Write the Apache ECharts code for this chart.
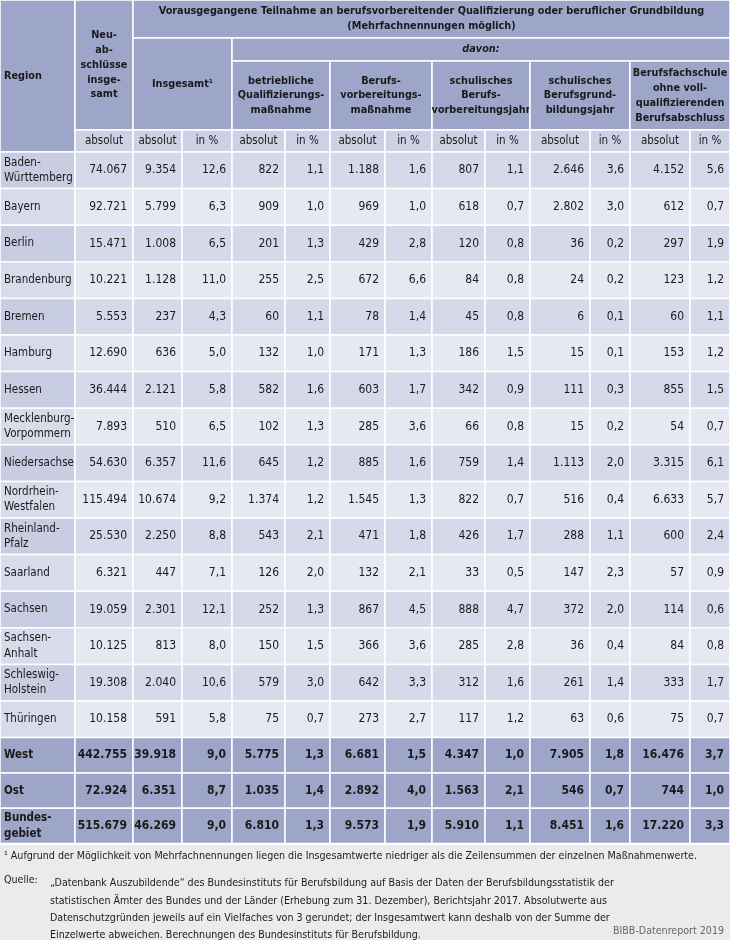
<!DOCTYPE html>
<html>
<head>
<meta charset="utf-8">
<title></title>
<style>
  * { margin: 0; padding: 0; }
  body { background: #fff; }
  #tab { width: 730px; height: 940px; }
</style>
<script src="https://cdn.jsdelivr.net/npm/echarts@6/dist/echarts.min.js"></script>
</head>
<body>
<div id="tab"></div>
<script>
// data
var regions = ['Baden-\nWürttemberg', 'Bayern', 'Berlin', 'Brandenburg', 'Bremen', 'Hamburg', 'Hessen',
  'Mecklenburg-\nVorpommern', 'Niedersachsen', 'Nordrhein-\nWestfalen', 'Rheinland-\nPfalz', 'Saarland',
  'Sachsen', 'Sachsen-\nAnhalt', 'Schleswig-\nHolstein', 'Thüringen', 'West', 'Ost', 'Bundes-\ngebiet'];
var neuAbs  = [74067, 92721, 15471, 10221, 5553, 12690, 36444, 7893, 54630, 115494, 25530, 6321, 19059, 10125, 19308, 10158, 442755, 72924, 515679];
var insAbs  = [9354, 5799, 1008, 1128, 237, 636, 2121, 510, 6357, 10674, 2250, 447, 2301, 813, 2040, 591, 39918, 6351, 46269];
var insPct  = [12.6, 6.3, 6.5, 11.0, 4.3, 5.0, 5.8, 6.5, 11.6, 9.2, 8.8, 7.1, 12.1, 8.0, 10.6, 5.8, 9.0, 8.7, 9.0];
var betrAbs = [822, 909, 201, 255, 60, 132, 582, 102, 645, 1374, 543, 126, 252, 150, 579, 75, 5775, 1035, 6810];
var betrPct = [1.1, 1.0, 1.3, 2.5, 1.1, 1.0, 1.6, 1.3, 1.2, 1.2, 2.1, 2.0, 1.3, 1.5, 3.0, 0.7, 1.3, 1.4, 1.3];
var bvmAbs  = [1188, 969, 429, 672, 78, 171, 603, 285, 885, 1545, 471, 132, 867, 366, 642, 273, 6681, 2892, 9573];
var bvmPct  = [1.6, 1.0, 2.8, 6.6, 1.4, 1.3, 1.7, 3.6, 1.6, 1.3, 1.8, 2.1, 4.5, 3.6, 3.3, 2.7, 1.5, 4.0, 1.9];
var bvjAbs  = [807, 618, 120, 84, 45, 186, 342, 66, 759, 822, 426, 33, 888, 285, 312, 117, 4347, 1563, 5910];
var bvjPct  = [1.1, 0.7, 0.8, 0.8, 0.8, 1.5, 0.9, 0.8, 1.4, 0.7, 1.7, 0.5, 4.7, 2.8, 1.6, 1.2, 1.0, 2.1, 1.1];
var bgjAbs  = [2646, 2802, 36, 24, 6, 15, 111, 15, 1113, 516, 288, 147, 372, 36, 261, 63, 7905, 546, 8451];
var bgjPct  = [3.6, 3.0, 0.2, 0.2, 0.1, 0.1, 0.3, 0.2, 2.0, 0.4, 1.1, 2.3, 2.0, 0.4, 1.4, 0.6, 1.8, 0.7, 1.6];
var bfsAbs  = [4152, 612, 297, 123, 60, 153, 855, 54, 3315, 6633, 600, 57, 114, 84, 333, 75, 16476, 744, 17220];
var bfsPct  = [5.6, 0.7, 1.9, 1.2, 1.1, 1.2, 1.5, 0.7, 6.1, 5.7, 2.4, 0.9, 0.6, 0.8, 1.7, 0.7, 3.7, 1.0, 3.3];
var units = ['absolut', 'absolut', 'in %', 'absolut', 'in %', 'absolut', 'in %', 'absolut', 'in %', 'absolut', 'in %', 'absolut', 'in %'];
var footnote = '¹ Aufgrund der Möglichkeit von Mehrfachnennungen liegen die Insgesamtwerte niedriger als die Zeilensummen der einzelnen Maßnahmenwerte.';
var sourceLines = [
  '„Datenbank Auszubildende“ des Bundesinstituts für Berufsbildung auf Basis der Daten der Berufsbildungsstatistik der',
  'statistischen Ämter des Bundes und der Länder (Erhebung zum 31. Dezember), Berichtsjahr 2017. Absolutwerte aus',
  'Datenschutzgründen jeweils auf ein Vielfaches von 3 gerundet; der Insgesamtwert kann deshalb von der Summe der',
  'Einzelwerte abweichen. Berechnungen des Bundesinstituts für Berufsbildung.'
];

// layout
var colEdges = [0, 75, 133, 182, 232, 285, 330, 385, 432, 485, 530, 590, 630, 690, 730];
var headEdges = [0, 38, 61, 130, 152];
var bodyTop = 152, rowH = 36.6, sumH = 35.3;
var FONT = '"DejaVu Sans Condensed", "Liberation Sans Narrow", sans-serif';

function fmtInt(v) { return String(v).replace(/\B(?=(\d{3})+(?!\d))/g, '.'); }
function fmtPct(v) { return v.toFixed(1).replace('.', ','); }

function rowY(r) {
  if (r <= 16) return bodyTop + r * rowH;
  return bodyTop + 16 * rowH + (r - 16) * sumH;
}

var numCols = [neuAbs, insAbs, insPct, betrAbs, betrPct, bvmAbs, bvmPct, bvjAbs, bvjPct, bgjAbs, bgjPct, bfsAbs, bfsPct];

// header cells: [text, c0, c1, r0, r1, italic, unitRow]
var headCells = [
  ['Region', 0, 1, 0, 4],
  ['Neu-\nab-\nschlüsse\ninsge-\nsamt', 1, 2, 0, 3],
  ['Vorausgegangene Teilnahme an berufsvorbereitender Qualifizierung oder beruflicher Grundbildung\n(Mehrfachnennungen möglich)', 2, 14, 0, 1],
  ['Insgesamt¹', 2, 4, 1, 3],
  ['davon:', 4, 14, 1, 2, true],
  ['betriebliche\nQualifizierungs-\nmaßnahme', 4, 6, 2, 3],
  ['Berufs-\nvorbereitungs-\nmaßnahme', 6, 8, 2, 3],
  ['schulisches\nBerufs-\nvorbereitungsjahr', 8, 10, 2, 3],
  ['schulisches\nBerufsgrund-\nbildungsjahr', 10, 12, 2, 3],
  ['Berufsfachschule\nohne voll-\nqualifizierenden\nBerufsabschluss', 12, 14, 2, 3]
];
units.forEach(function (u, i) { headCells.push([u, i + 1, i + 2, 3, 4, false, true]); });

var bodyCells = [];
for (var r = 0; r < regions.length; r++) {
  bodyCells.push([0, r, regions[r]]);
  for (var c = 0; c < numCols.length; c++) {
    var v = numCols[c][r];
    bodyCells.push([c + 1, r, (c >= 2 && c % 2 === 0) ? fmtPct(v) : fmtInt(v)]);
  }
}

function rectItem(api, x0, x1, y0, y1, fill, text, align, bold, italic, size) {
  var p0 = api.coord([x0, y0]), p1 = api.coord([x1, y1]);
  var tx = align === 'left' ? p0[0] + 4 : align === 'right' ? p1[0] - 6 : (p0[0] + p1[0]) / 2;
  return {
    type: 'group',
    children: [
      { type: 'rect', shape: { x: p0[0], y: p0[1], width: p1[0] - p0[0], height: p1[1] - p0[1] },
        style: { fill: fill, stroke: '#ffffff', lineWidth: 1.5 } },
      { type: 'text', style: { x: tx, y: (p0[1] + p1[1]) / 2, text: text, align: align, verticalAlign: 'middle',
          fill: '#1a1a1a', fontFamily: FONT, fontSize: size, lineHeight: size + 4,
          fontWeight: bold ? 'bold' : 'normal', fontStyle: italic ? 'italic' : 'normal' } }
    ]
  };
}

var chart = echarts.init(document.getElementById('tab'));
chart.setOption({
  animation: false,
  grid: { left: 0, top: 0, width: 730, height: 845 },
  xAxis: { type: 'value', min: 0, max: 730, show: false },
  yAxis: { type: 'value', min: 0, max: 845, inverse: true, show: false },
  graphic: [
    { type: 'rect', shape: { x: 0, y: 845, width: 730, height: 95 }, style: { fill: '#ebebeb' } },
    { type: 'text', style: { x: 4, y: 851, text: footnote, fill: '#1a1a1a', fontFamily: FONT, fontSize: 10.6 } },
    { type: 'text', style: { x: 4, y: 875, text: 'Quelle:', fill: '#1a1a1a', fontFamily: FONT, fontSize: 10.6 } },
    { type: 'text', style: { x: 50, y: 875, text: sourceLines.join('\n'), fill: '#1a1a1a', fontFamily: FONT, fontSize: 10.6, lineHeight: 17.3 } },
    { type: 'text', style: { x: 724, y: 926, text: 'BIBB-Datenreport 2019', align: 'right', fill: '#666', fontFamily: FONT, fontSize: 10.6 } }
  ],
  series: [{
    type: 'custom',
    data: headCells.map(function (h, i) { return [i]; }),
    renderItem: function (params, api) {
      var h = headCells[params.dataIndex];
      var fill = h[6] ? '#cdd1e4' : '#9da6c9';
      return rectItem(api, colEdges[h[1]], colEdges[h[2]], headEdges[h[3]], headEdges[h[4]], fill,
        h[0], h[1] === 0 ? 'left' : 'center', !h[6], h[5], h[6] ? 11.5 : 10.8);
    }
  }, {
    type: 'custom',
    data: bodyCells,
    renderItem: function (params, api) {
      var c = api.value(0), r = api.value(1);
      var cell = bodyCells[params.dataIndex];
      var sum = r >= 16;
      var fill;
      if (sum) fill = '#9da6c9';
      else if (c === 0) fill = r % 2 === 0 ? '#c9cde2' : '#d8dbea';
      else fill = r % 2 === 0 ? '#d6d9e9' : '#e6e8f2';
      return rectItem(api, colEdges[c], colEdges[c + 1], rowY(r), rowY(r + 1), fill,
        cell[2], c === 0 ? 'left' : 'right', sum, false, c === 0 ? 11.5 : 12);
    }
  }]
});
</script>
</body>
</html>
